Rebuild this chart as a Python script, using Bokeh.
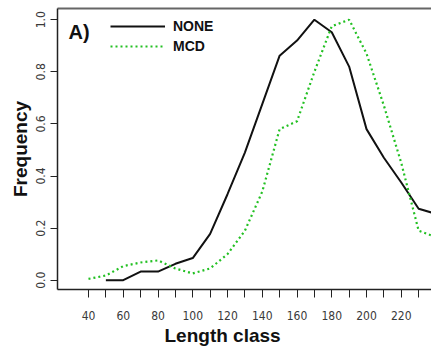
from bokeh.plotting import figure
from bokeh.models import (Range1d, FixedTicker, LinearAxis, Legend, LegendItem,
                          Label, Title, PrintfTickFormatter)
from bokeh.embed import file_html
from bokeh.resources import INLINE

# ---- data ----
none_x = [50, 60, 70, 80, 90, 100, 110, 120, 130, 140, 150, 160, 170, 180,
          190, 200, 210, 220, 230, 240]
none_y = [0.0, 0.0, 0.033, 0.033, 0.063, 0.085, 0.178, 0.33, 0.49, 0.676,
          0.862, 0.92, 1.0, 0.952, 0.82, 0.58, 0.47, 0.375, 0.274, 0.255]
mcd_x = [40, 50, 60, 70, 80, 90, 100, 110, 120, 130, 140, 150, 160, 170,
         180, 190, 200, 210, 220, 230, 240]
mcd_y = [0.005, 0.018, 0.054, 0.068, 0.076, 0.045, 0.026, 0.045, 0.10, 0.19,
         0.34, 0.58, 0.61, 0.80, 0.975, 1.0, 0.87, 0.67, 0.45, 0.19, 0.165]
x_labeled_ticks = [40, 60, 80, 100, 120, 140, 160, 180, 200, 220]
x_unlabeled_ticks = [50, 70, 90, 110, 130, 150, 170, 190, 210, 230]
y_ticks = [0.0, 0.2, 0.4, 0.6, 0.8, 1.0]
series_names = ["NONE", "MCD"]
panel_tag = "A)"
x_title = "Length class"
y_title = "Frequency"

TICK_FONT = "'Liberation Sans Narrow', 'DejaVu Sans Condensed', 'Liberation Sans', sans-serif"
BOLD_FONT = "'Liberation Sans', Arial, sans-serif"

p = figure(width=431, height=349, output_backend="svg", toolbar_location=None,
           x_range=Range1d(22.16, 237.4), y_range=Range1d(-0.0357, 1.043),
           min_border_left=57, min_border_right=0, min_border_top=8,
           min_border_bottom=60)
p.outline_line_color = None
p.grid.visible = False
p.background_fill_color = "white"
p.border_fill_color = "white"

# x axis
xa = p.xaxis[0]
xa.ticker = FixedTicker(ticks=x_labeled_ticks, minor_ticks=x_unlabeled_ticks)
xa.axis_line_color = "#222222"
xa.axis_line_width = 1.5
xa.major_tick_out = 8
xa.major_tick_in = 0
xa.minor_tick_out = 8
xa.minor_tick_in = 0
xa.major_tick_line_color = "#222222"
xa.minor_tick_line_color = "#222222"
xa.major_label_standoff = 13
xa.major_label_text_font = TICK_FONT
xa.major_label_text_font_size = "12px"
xa.major_label_text_color = "#3a3a3a"

# y axis
ya = p.yaxis[0]
ya.ticker = FixedTicker(ticks=y_ticks, minor_ticks=[])
ya.formatter = PrintfTickFormatter(format="%.1f")
ya.axis_line_color = "#222222"
ya.axis_line_width = 1.5
ya.major_tick_out = 7
ya.major_tick_in = 0
ya.minor_tick_out = 0
ya.minor_tick_in = 0
ya.major_tick_line_color = "#222222"
ya.major_label_orientation = "vertical"
ya.major_label_standoff = 5
ya.major_label_text_font = TICK_FONT
ya.major_label_text_font_size = "12px"
ya.major_label_text_color = "#3a3a3a"
ya.axis_label = y_title
ya.axis_label_text_font = BOLD_FONT
ya.axis_label_text_font_size = "19px"
ya.axis_label_text_font_style = "bold"
ya.axis_label_text_color = "#111111"
ya.axis_label_standoff = 3

# top border line of the box
top = LinearAxis(ticker=FixedTicker(ticks=[], minor_ticks=[]),
                 axis_line_color="#666666", axis_line_width=2,
                 major_tick_out=0, major_tick_in=0, minor_tick_out=0,
                 minor_tick_in=0, major_label_standoff=0,
                 major_label_text_font_size="0px")
p.add_layout(top, "above")

r_none = p.line(none_x, none_y, line_color="#111111", line_width=2)
r_mcd = p.line(mcd_x, mcd_y, line_color="#22c022", line_width=2.2,
               line_dash="2 3")

legend = Legend(items=[LegendItem(label=series_names[0], renderers=[r_none]),
                       LegendItem(label=series_names[1], renderers=[r_mcd])],
                location=(53, 233), glyph_width=55, glyph_height=20,
                label_height=20, label_width=20, spacing=0, padding=0,
                margin=0, label_standoff=8, border_line_alpha=0,
                background_fill_alpha=0,
                label_text_font=BOLD_FONT, label_text_font_size="14px",
                label_text_font_style="bold", label_text_color="#111111")
p.add_layout(legend, "center")

p.add_layout(Label(x=11, y=258, x_units="screen", y_units="screen",
                   text=panel_tag, text_font=BOLD_FONT, text_font_size="20px",
                   text_font_style="bold", text_baseline="middle",
                   text_align="left", text_color="#111111"))

p.add_layout(Title(text=x_title, align="left", offset=107, standoff=0,
                   text_font=BOLD_FONT, text_font_size="19px",
                   text_font_style="bold", text_color="#111111"), "below")

open("out.html", "w").write(file_html(p, INLINE))
